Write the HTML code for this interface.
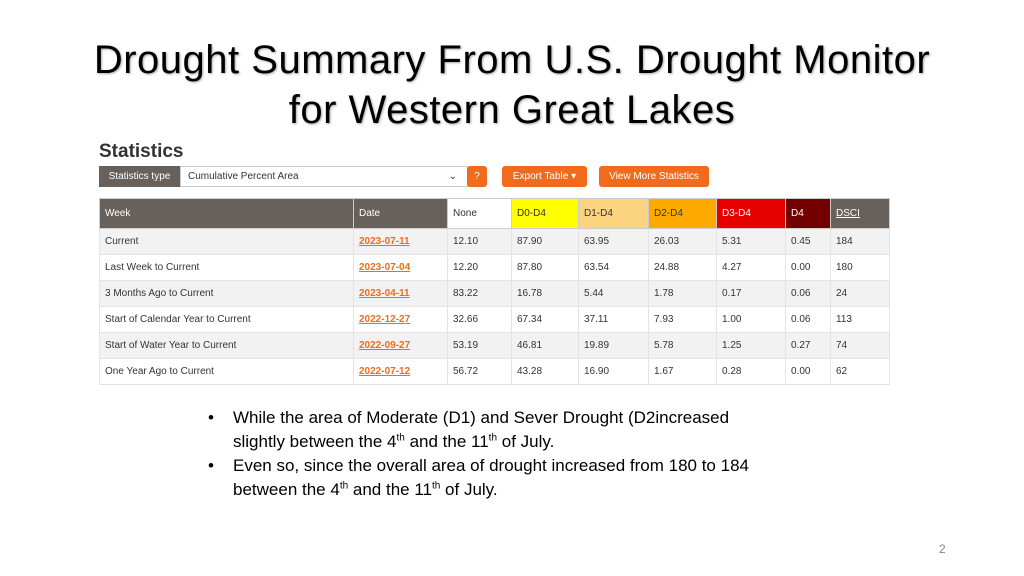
<!DOCTYPE html>
<html><head><meta charset="utf-8"><style>
body{margin:0;width:1024px;height:576px;background:#fff;position:relative;overflow:hidden;font-family:"Liberation Sans",sans-serif}
.t{position:absolute;left:0;width:1024px;text-align:center;font-size:40px;color:#000;line-height:48px;text-shadow:1px 1px 2px #aaa;letter-spacing:0.5px}
.a{position:absolute;white-space:nowrap}
table{position:absolute;left:99px;top:198px;border-collapse:collapse;font-size:10px;color:#333}
td{height:26px;border:1px solid #e4e4e4;padding:0 0 0 5px;box-sizing:border-box}
tr:nth-child(even) td{background:#f2f2f2}
tr.h td{height:30px;color:#fff;background:#68605b;border-color:#ccc}
.dt{color:#f26b1d;text-decoration:underline;font-weight:bold}
.btn{position:absolute;background:#f26b1d;color:#fff;font-size:10px;border-radius:3px;text-align:center;line-height:21px;height:21px}
ul{position:absolute;left:205px;top:406px;margin:0;padding:0;list-style:none;font-size:17px;line-height:24px;width:620px}
li{padding-left:28px;position:relative;white-space:nowrap}
li:before{content:"•";position:absolute;left:3px}
sup{font-size:10px;line-height:0}
</style></head><body>
<div class="t" style="top:36px">Drought Summary From U.S. Drought Monitor</div>
<div class="t" style="top:86px">for Western Great Lakes</div>
<div class="a" style="left:99px;top:141px;font-size:19px;font-weight:bold;color:#333">Statistics</div>
<div class="a" style="left:99px;top:166px;width:81px;height:21px;background:#68605b;color:#fff;font-size:10px;line-height:21px;text-align:center">Statistics type</div>
<div class="a" style="left:180px;top:166px;height:19px;border:1px solid #ccc;font-size:10px;line-height:19px;color:#333;padding-left:7px;width:279px">Cumulative Percent Area<span style="position:absolute;right:10px">⌄</span></div>
<div class="btn" style="left:467px;top:166px;width:20px">?</div>
<div class="btn" style="left:502px;top:166px;width:85px">Export Table ▾</div>
<div class="btn" style="left:599px;top:166px;width:110px">View More Statistics</div>
<table>
<colgroup><col style="width:254px"><col style="width:94px"><col style="width:64px"><col style="width:67px"><col style="width:70px"><col style="width:68px"><col style="width:69px"><col style="width:45px"><col style="width:59px"></colgroup>
<tr class="h"><td>Week</td><td>Date</td><td style="background:#fff;color:#333">None</td><td style="background:#ffff00;color:#333">D0-D4</td><td style="background:#fcd37f;color:#333">D1-D4</td><td style="background:#ffaa00;color:#333">D2-D4</td><td style="background:#e60000">D3-D4</td><td style="background:#730000">D4</td><td style="text-decoration:underline">DSCI</td></tr>
<tr><td>Current</td><td class="dt">2023-07-11</td><td>12.10</td><td>87.90</td><td>63.95</td><td>26.03</td><td>5.31</td><td>0.45</td><td>184</td></tr>
<tr><td>Last Week to Current</td><td class="dt">2023-07-04</td><td>12.20</td><td>87.80</td><td>63.54</td><td>24.88</td><td>4.27</td><td>0.00</td><td>180</td></tr>
<tr><td>3 Months Ago to Current</td><td class="dt">2023-04-11</td><td>83.22</td><td>16.78</td><td>5.44</td><td>1.78</td><td>0.17</td><td>0.06</td><td>24</td></tr>
<tr><td>Start of Calendar Year to Current</td><td class="dt">2022-12-27</td><td>32.66</td><td>67.34</td><td>37.11</td><td>7.93</td><td>1.00</td><td>0.06</td><td>113</td></tr>
<tr><td>Start of Water Year to Current</td><td class="dt">2022-09-27</td><td>53.19</td><td>46.81</td><td>19.89</td><td>5.78</td><td>1.25</td><td>0.27</td><td>74</td></tr>
<tr><td>One Year Ago to Current</td><td class="dt">2022-07-12</td><td>56.72</td><td>43.28</td><td>16.90</td><td>1.67</td><td>0.28</td><td>0.00</td><td>62</td></tr>
</table>
<ul>
<li>While the area of Moderate (D1) and Sever Drought (D2increased<br>slightly between the 4<sup>th</sup> and the 11<sup>th</sup> of July.</li>
<li>Even so, since the overall area of drought increased from 180 to 184<br>between the 4<sup>th</sup> and the 11<sup>th</sup> of July.</li>
</ul>
<div class="a" style="left:939px;top:542px;font-size:12px;color:#888">2</div>
</body></html>
